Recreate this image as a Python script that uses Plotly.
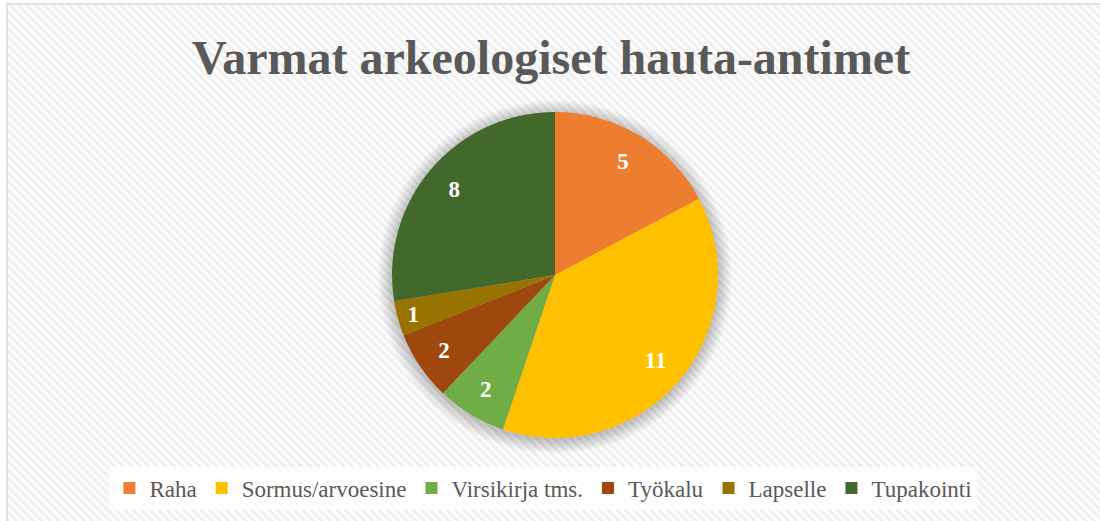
import base64
import plotly.graph_objects as go

# ---- data ----
labels = ["Raha", "Sormus/arvoesine", "Virsikirja tms.", "Työkalu", "Lapselle", "Tupakointi"]
values = [5, 11, 2, 2, 1, 8]
colors = ["#ED7D31", "#FFC000", "#70AD47", "#9E480E", "#997300", "#43682B"]
title_text = "Varmat arkeologiset hauta-antimet"

W, H = 1100, 521
FONT = "Liberation Serif"

# striped background (style only)
svg = f'''<svg xmlns="http://www.w3.org/2000/svg" width="{W}" height="{H}">
<defs><pattern id="p" patternUnits="userSpaceOnUse" width="6" height="6" patternTransform="rotate(-45)">
<rect width="6" height="6" fill="#fcfcfc"/><rect width="2.6" height="6" fill="#eeeeee"/></pattern></defs>
<rect width="{W}" height="{H}" fill="url(#p)"/></svg>'''
svg_uri = "data:image/svg+xml;base64," + base64.b64encode(svg.encode()).decode()

def px(x):
    return x / W

def py(y):
    return 1 - y / H

cx, cy, r = 555, 275, 163
dom = dict(x=[px(cx - r), px(cx + r)], y=[py(cy + r), py(cy - r)])

# full pie (slices)
pie = go.Pie(
    labels=labels, values=values,
    marker=dict(colors=colors, line=dict(width=0)),
    sort=False, direction="clockwise", rotation=0,
    textinfo="none", hoverinfo="label+value",
    domain=dom,
)
# transparent ring carrying the value labels near the outer edge (Excel-like placement)
ring = go.Pie(
    labels=labels, values=values, hole=0.62,
    marker=dict(colors=["rgba(0,0,0,0)"] * len(values), line=dict(width=0)),
    sort=False, direction="clockwise", rotation=0,
    textinfo="value", textposition="inside", insidetextorientation="horizontal",
    textfont=dict(family=FONT, size=23, color="white", weight="bold"),
    hoverinfo="skip", showlegend=False,
    domain=dom,
)
fig = go.Figure([pie, ring])

shapes = []
# soft shadow halo under pie
for k in range(14, 0, -1):
    rr = r + k
    shapes.append(dict(type="circle", xref="paper", yref="paper", layer="below",
                       x0=px(cx - rr), x1=px(cx + rr), y0=py(cy + 2 + rr), y1=py(cy + 2 - rr),
                       fillcolor="rgba(0,0,0,0.015)", line=dict(width=0)))
# chart border
shapes.append(dict(type="rect", xref="paper", yref="paper", layer="above",
                   x0=px(7), x1=1.05, y0=-0.05, y1=py(4),
                   line=dict(color="#d9d9d9", width=1.5), fillcolor="rgba(0,0,0,0)"))

fig.update_layout(
    width=W, height=H,
    margin=dict(l=0, r=0, t=0, b=0),
    paper_bgcolor="white",
    plot_bgcolor="white",
    font=dict(family=FONT, color="#595959"),
    images=[dict(source=svg_uri, xref="paper", yref="paper", x=px(7), y=py(4),
                 sizex=1, sizey=1, sizing="stretch", xanchor="left", yanchor="top", layer="below")],
    shapes=shapes,
    title=dict(text=f"<b>{title_text}</b>", x=0.501, xanchor="center",
               y=py(57), yanchor="middle", yref="container",
               font=dict(family=FONT, size=48, color="#595959")),
    legend=dict(orientation="h", x=0.494, xanchor="center", y=py(488), yanchor="middle",
                font=dict(family=FONT, size=23, color="#595959"),
                bgcolor="rgba(255,255,255,0.75)", traceorder="normal",
                itemwidth=30),
    showlegend=True,
)

fig.write_html("out.html", config={"displayModeBar": False},
               post_script="document.body.style.margin='0px';document.body.style.overflow='hidden';")
